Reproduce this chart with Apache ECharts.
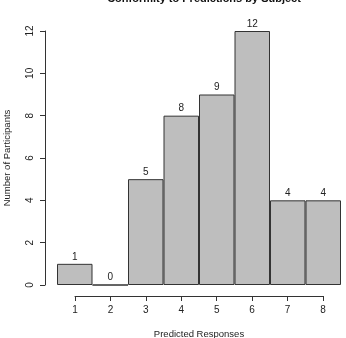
<!DOCTYPE html>
<html><head><meta charset="utf-8">
<script src="https://cdn.jsdelivr.net/npm/echarts@6/dist/echarts.min.js"></script>
<style>html,body{margin:0;padding:0;background:#fff}#c{width:346px;height:338px}</style>
</head><body><div id="c"></div>
<script>
const categories = ['1','2','3','4','5','6','7','8'];
const counts = [1, 0, 5, 8, 9, 12, 4, 4];
const xTicks = [1, 2, 3, 4, 5, 6, 7, 8];
const yTicks = [0, 2, 4, 6, 8, 10, 12];

const chart = echarts.init(document.getElementById('c'), null, {renderer: 'canvas'});
const font = 'Liberation Sans, Arial, sans-serif';
chart.setOption({
  animation: false,
  textStyle: {fontFamily: font},
  title: {
    text: 'Conformity to Predictions by Subject',
    left: 199, textAlign: 'center', top: -12,
    textStyle: {fontSize: 11, fontWeight: 'bold', color: '#111', fontFamily: font}
  },
  grid: [
    {left: 57, right: 5, top: 31, bottom: 53, containLabel: false, outerBoundsMode: 'none'},
    {left: 75, right: 23, top: 295, height: 1, containLabel: false, outerBoundsMode: 'none'}
  ],
  xAxis: [
    {gridIndex: 0, type: 'category', data: categories, show: false, boundaryGap: true},
    {gridIndex: 1, type: 'value', min: 1, max: 8, interval: 1,
     axisLine: {show: true, lineStyle: {color: '#333', width: 1}},
     axisTick: {show: true, length: 5, lineStyle: {color: '#333'}},
     splitLine: {show: false},
     axisLabel: {margin: 9, fontSize: 10, color: '#222', fontFamily: font},
     name: 'Predicted Responses', nameLocation: 'middle', nameGap: 33,
     nameTextStyle: {fontSize: 9.5, color: '#222', fontFamily: font}}
  ],
  yAxis: [
    {gridIndex: 0, type: 'value', min: 0, max: 12, interval: 2, offset: 12,
     axisLine: {show: true, lineStyle: {color: '#333', width: 1}},
     axisTick: {show: true, length: 5, lineStyle: {color: '#333'}},
     splitLine: {show: false},
     axisLabel: {rotate: 90, margin: 10, fontSize: 10, color: '#222', fontFamily: font},
     name: 'Number of Participants', nameLocation: 'middle', nameGap: 33, nameRotate: 90,
     nameTextStyle: {fontSize: 9.5, color: '#222', fontFamily: font}},
    {gridIndex: 1, type: 'value', show: false}
  ],
  series: [{
    type: 'bar', xAxisIndex: 0, yAxisIndex: 0,
    data: counts, barWidth: '100%', barCategoryGap: '0%',
    itemStyle: {color: '#bebebe', borderColor: '#333', borderWidth: 1},
    label: {show: true, position: 'top', distance: 2, fontSize: 10, color: '#222', fontFamily: font}
  }]
});
</script></body></html>
